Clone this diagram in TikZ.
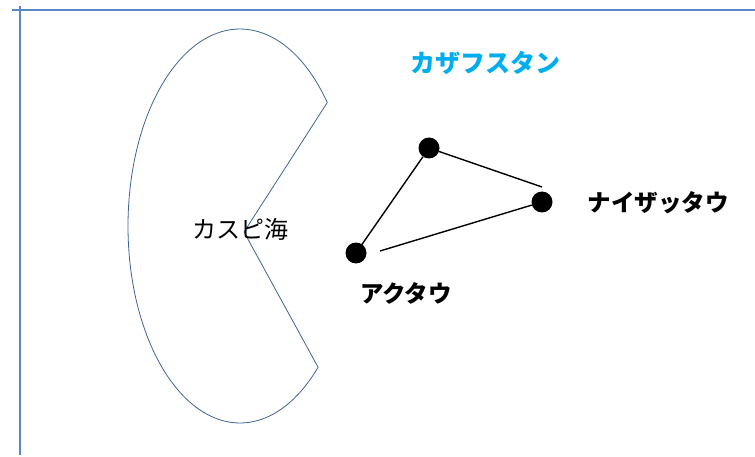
\documentclass[tikz,border=0pt]{standalone}
\usepackage{fontspec}
\usetikzlibrary{calc}
\newfontfamily\jp{Noto Sans CJK JP}
\definecolor{frameblue}{HTML}{5A88C6}
\definecolor{seablue}{HTML}{3D6396}
\definecolor{kazblue}{HTML}{00AEEF}
\begin{document}
\begin{tikzpicture}[x=1pt,y=-1pt,
  dot/.style={circle,fill=black,inner sep=0pt,minimum size=21pt},
  lbl/.style={font=\jp\bfseries\fontsize{23.5}{25}\selectfont,inner sep=0pt},
  link/.style={line width=1.4pt,black}]
\useasboundingbox (0,0) rectangle (755,457);
% frame
\coordinate (ft1) at (12,10); \coordinate (ft2) at (755,10);
\coordinate (fl1) at (20,6); \coordinate (fl2) at (20,455);
\draw[frameblue,line width=1.8pt] (ft1) -- (ft2);
\draw[frameblue,line width=1.8pt] (fl1) -- (fl2);
% Caspian sea shape
\coordinate (c) at (240,226);
\coordinate (inner) at (244,232);
\draw[seablue,line width=0.8pt] (inner) -- ($(c)+(38.8:112 and -197)$)
  arc[start angle=38.8,end angle=314.2,x radius=112,y radius=-197] -- cycle;
\node[font=\jp\fontsize{24}{26}\selectfont,inner sep=0pt] (sea) at (240,229) {カスピ海};
% cities
\node[dot] (top) at (429,148) {};
\node[dot] (right) at (542,202) {};
\node[dot] (aktau) at (356,253) {};
\coordinate (rtop) at (542,187);
\coordinate (agap) at (380,251);
\draw[link] (top) -- (aktau.center);
\draw[link] (top) -- (rtop);
\draw[link] (right) -- (agap);
% labels
\node[lbl,text=kazblue,font=\jp\bfseries\fontsize{25}{27}\selectfont] (kaz) at (485,63) {カザフスタン};
\node[lbl] (nai) at (658,203) {ナイザッタウ};
\node[lbl] (akl) at (406,293) {アクタウ};
\end{tikzpicture}
\end{document}
